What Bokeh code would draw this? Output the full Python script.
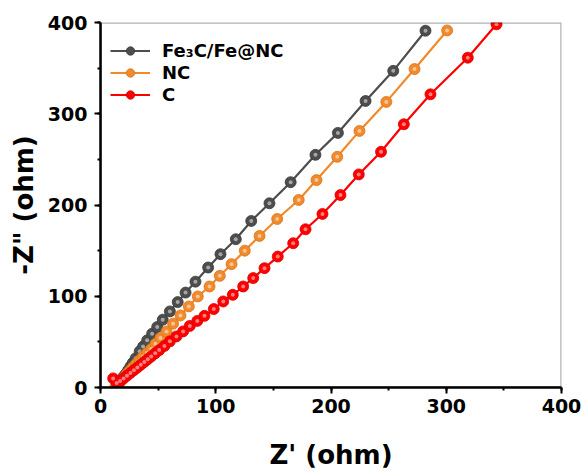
from bokeh.plotting import figure
from bokeh.models import Range1d, SingleIntervalTicker, Legend, LegendItem, ColumnDataSource, BoxAnnotation
from bokeh.embed import file_html
from bokeh.resources import INLINE

# Data
gray_x = [14, 16, 18, 20, 22, 24, 26, 28, 30.5, 34, 37, 40.5, 44.8, 49.2, 54, 60.2, 67, 73.8, 82.4, 93.4,
          104.1, 117.4, 130.8, 146.6, 165, 186.5, 206, 230, 254, 282]
gray_y = [2, 5, 8, 12, 15, 19, 23, 27, 32, 39.7, 45, 51.7, 59, 66.3, 74.3, 83.4, 93.6, 104, 116, 131.5,
          146.1, 162.5, 182.5, 201.9, 225, 255, 279, 314, 347, 391]

orange_x = [13, 15, 17, 19, 21, 23, 25.5, 28, 31, 34, 37, 40.5, 44, 47.7, 52, 57.3, 63, 69.4, 76.6, 84.4,
            94.6, 103.5, 113.7, 125.2, 138, 153.3, 172, 187.4, 205.4, 224.7, 248, 272.5, 300.8]
orange_y = [1, 3, 6, 9, 12, 15, 18.5, 22, 26, 30, 34, 38, 42.3, 48, 54.3, 61.5, 70, 79, 88.9, 99.8,
            110.7, 122.4, 135.2, 150, 166.1, 184.7, 205.5, 227.3, 252.8, 281.2, 313, 349, 391.3]

red_x = [11, 14, 17, 20, 23, 26, 29, 32, 35, 38, 41, 44, 47.5, 51, 55.5, 60.2, 65.9, 71.7, 77.5, 84, 90.2,
         98.3, 106.5, 114.8, 123.8, 132.5, 142.3, 153.8, 167.2, 177.9, 192.6, 208.2, 224.1, 243.4, 263.2,
         286.3, 318.7, 343.6]
red_y = [10, 5, 7, 10, 13, 16, 19, 22, 25, 28, 31, 34, 37.5, 41, 45.5, 50.6, 56, 61.5, 67.5, 73, 78.5,
         86, 94.3, 101.6, 110.7, 119.9, 130.8, 143.5, 158.1, 173.4, 190.2, 210.9, 233.5, 258.3, 288.5,
         321.3, 361.4, 398]

series_names = ["Fe\u2083C/Fe@NC", "NC", "C"]
series_x = [gray_x, orange_x, red_x]
series_y = [gray_y, orange_y, red_y]
series_colors = ["#4d4d4d", "#f08a2c", "#ff0000"]
series_edges = ["#3a3a3a", "#d9731a", "#d90000"]

FONT = "DejaVu Sans"

p = figure(width=582, height=472, output_backend="svg", toolbar_location=None,
           x_range=Range1d(0, 400), y_range=Range1d(0, 400),
           min_border_left=100, min_border_right=21, min_border_top=22, min_border_bottom=84)
p.xgrid.visible = False
p.ygrid.visible = False
p.outline_line_color = None
p.background_fill_color = "white"
p.border_fill_color = "white"

for ax in (p.xaxis[0], p.yaxis[0]):
    ax.ticker = SingleIntervalTicker(interval=100, num_minor_ticks=2)
    ax.axis_line_width = 2.5
    ax.axis_line_color = "black"
    ax.major_tick_line_width = 2
    ax.minor_tick_line_width = 2
    ax.major_tick_out = 6
    ax.major_tick_in = 0
    ax.minor_tick_out = 3
    ax.minor_tick_in = 0
    ax.major_label_text_font = FONT
    ax.major_label_text_font_style = "bold"
    ax.major_label_text_font_size = "19px"
    ax.major_label_text_color = "black"
    ax.axis_label_text_font = FONT
    ax.axis_label_text_font_style = "bold"
    ax.axis_label_text_font_size = "26px"
    ax.axis_label_text_color = "black"

p.xaxis[0].axis_label = "Z' (ohm)"
p.yaxis[0].axis_label = '-Z" (ohm)'
p.xaxis[0].major_label_standoff = 5
p.yaxis[0].major_label_standoff = 7
p.xaxis[0].axis_label_standoff = 24
p.yaxis[0].axis_label_standoff = 6

frame_box = BoxAnnotation(left=0, right=400, bottom=0, top=400, fill_alpha=0,
                          line_color="black", line_width=2.5, level="overlay")
p.add_layout(frame_box)

items = []
for name, xs, ys, col, edge in zip(series_names, series_x, series_y, series_colors, series_edges):
    src = ColumnDataSource(dict(x=xs, y=ys))
    ln = p.line("x", "y", source=src, line_color=col, line_width=2.2)
    sc = p.scatter("x", "y", source=src, size=11, fill_color=col, line_color=edge, line_width=0.8)
    p.scatter("x", "y", source=src, size=4, fill_color="white", fill_alpha=0.5, line_color=None)
    items.append(LegendItem(label=name, renderers=[ln, sc]))

legend = Legend(items=items, location=(10, 282), border_line_color=None, background_fill_alpha=0,
                padding=0, margin=0, spacing=1, glyph_width=40, glyph_height=21, label_height=21,
                label_standoff=12, label_text_font=FONT, label_text_font_style="bold",
                label_text_font_size="18px", label_text_color="black")
p.add_layout(legend, "center")

open("out.html", "w").write(file_html(p, INLINE))
